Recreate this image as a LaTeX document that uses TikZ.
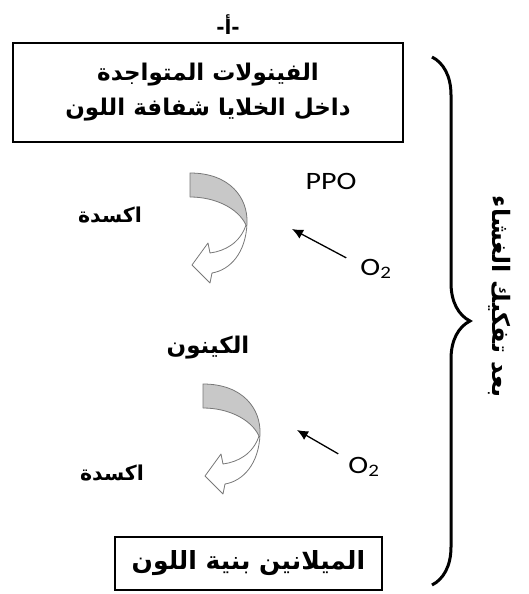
\documentclass[tikz,border=0pt]{standalone}
\usepackage{fontspec}
\usetikzlibrary{arrows.meta,decorations.pathreplacing}
\TeXXeTstate=1
\newfontfamily\arabicfont[Script=Arabic,BoldFont={DejaVu Sans Bold}]{DejaVu Sans}
\newfontfamily\latinfont{Carlito}
\definecolor{bandgray}{RGB}{200,200,200}
\definecolor{edgegray}{RGB}{120,120,120}
\begin{document}
\begin{tikzpicture}[x=1pt,y=-1pt,
  boxnode/.style={draw,line width=1.1pt,inner sep=0pt,align=center},
  artext/.style={font=\arabicfont\bfseries\fontsize{23}{36}\selectfont,inner sep=0pt},
  oxtext/.style={font=\arabicfont\bfseries\fontsize{20.5}{36}\selectfont,inner sep=0pt},
  boxtext/.style={font=\arabicfont\bfseries\fontsize{23}{35}\selectfont,inner sep=0pt},
  lattext/.style={font=\latinfont\fontsize{25}{28}\selectfont,inner sep=0pt,xscale=1.2},
  oxarrow/.style={line width=1.3pt,-{Latex[length=11pt,width=10pt]}},
  curvedarrow/.pic={
    \fill[bandgray] (0,0) .. controls (40,0) and (58,25) .. (57,50)
       -- (56,52) .. controls (48,35) and (25,24) .. (0,24) -- cycle;
    \draw[edgegray,line width=0.8pt,line join=round]
      (0,24) -- (0,0) .. controls (40,0) and (58,25) .. (57,50)
      .. controls (56,80) and (40,97) .. (22,100) -- (20,110) -- (2,92)
      -- (18,70) -- (20,80) .. controls (35,78) and (50,70) .. (56,52);
    \draw[edgegray,line width=0.8pt] (0,24) .. controls (25,24) and (48,35) .. (56,52);
  }]
\useasboundingbox (0,0) rectangle (528,594);

% title
\node[font=\arabicfont\bfseries\fontsize{20}{22}\selectfont,inner sep=0pt] (title) at (228,25) {\beginR-أ-\endR};

% top box
\node[boxnode,minimum width=390pt,minimum height=99pt] (phenols) at (208,92.5) {};
\node[boxtext,align=center] (phenolstext) at (phenols.center)
  {\beginR الفينولات المتواجدة\endR\\\beginR داخل الخلايا شفافة اللون\endR};

% first step
\pic at (190,173) {curvedarrow};
\node[oxtext] (ox1) at (110,215) {\beginR اكسدة\endR};
\node[lattext] (ppo) at (331,181) {PPO};
\node[lattext] (otwo1) at (376,269) {O\textsubscript{2}};
\coordinate (tip1) at (292,229);
\draw[oxarrow] (otwo1.north west) ++(-14,-1) coordinate (s1) (s1) -- (tip1);

% quinone
\node[artext] (quinone) at (208,348) {\beginR الكينون\endR};

% second step
\pic at (203,384) {curvedarrow};
\node[oxtext] (ox2) at (112,473) {\beginR اكسدة\endR};
\node[lattext] (otwo2) at (364,467) {O\textsubscript{2}};
\coordinate (tip2) at (297,430);
\draw[oxarrow] (otwo2.north west) ++(-10,-3) coordinate (s2) (s2) -- (tip2);

% bottom box
\node[boxnode,minimum width=267pt,minimum height=53pt] (melanin) at (248.5,563.5) {};
\node[boxtext,font=\arabicfont\bfseries\fontsize{25}{36}\selectfont] (melanintext) at (melanin.center) {\beginR الميلانين بنية اللون\endR};

% brace
\coordinate (bracetop) at (432,57);
\coordinate (bracebot) at (432,585);
\draw[line width=3pt,decorate,decoration={brace,amplitude=38pt}] (bracetop) -- (bracebot);
\node[font=\arabicfont\bfseries\fontsize{24}{30}\selectfont,inner sep=0pt,rotate=-90] (membrane) at (500,297) {\beginR بعد تفكيك الغشاء\endR};
\end{tikzpicture}
\end{document}
